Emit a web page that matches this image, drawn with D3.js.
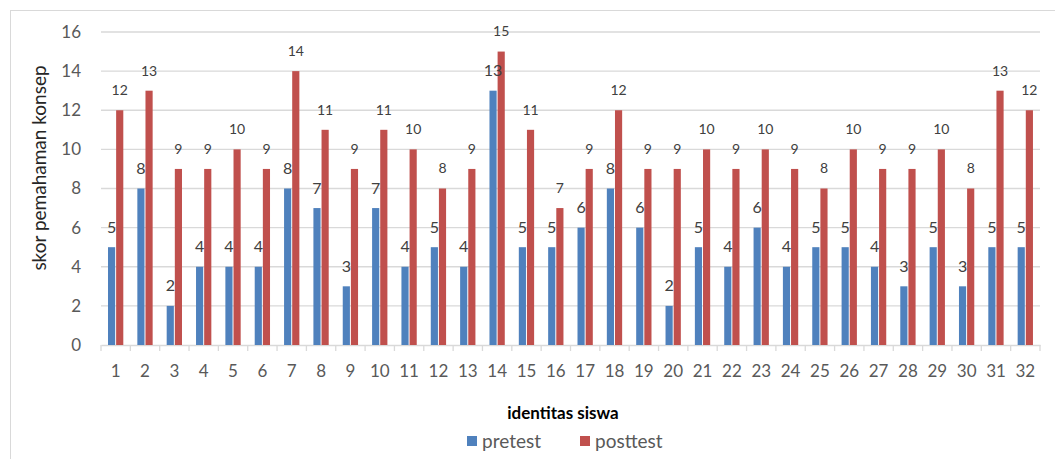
<!DOCTYPE html>
<html>
<head>
<meta charset="utf-8">
<script src="https://cdn.jsdelivr.net/npm/d3@7"></script>
<style>
  body { margin: 0; background: #fff; }
  text { font-family: Lato, "Open Sans", sans-serif; }
</style>
</head>
<body>
<div id="chart"></div>
<script>
// data
var ids = d3.range(1, 33).map(String);
var pretest  = [5, 8, 2, 4, 4, 4, 8, 7, 3, 7, 4, 5, 4, 13, 5, 5, 6, 8, 6, 2, 5, 4, 6, 4, 5, 5, 4, 3, 5, 3, 5, 5];
var posttest = [12, 13, 9, 9, 10, 9, 14, 11, 9, 11, 10, 8, 9, 15, 11, 7, 9, 12, 9, 9, 10, 9, 10, 9, 8, 10, 9, 9, 10, 8, 13, 12];
var yTicks = [0, 2, 4, 6, 8, 10, 12, 14, 16];
var seriesNames = ["pretest", "posttest"];
var seriesColors = ["#4f81bd", "#c0504d"];

var W = 1055, H = 459;
var svg = d3.select("#chart").append("svg")
    .attr("width", W)
    .attr("height", H);

// outer frame
svg.append("rect")
    .attr("x", 10.5).attr("y", 10.5)
    .attr("width", 1070).attr("height", 470)
    .attr("fill", "none")
    .attr("stroke", "#d9d9d9");

var x0 = d3.scaleBand().domain(ids).range([101, 1040]);
var x1 = d3.scaleBand().domain(seriesNames).range([7, 22.3]).paddingInner(0.12);
var y = d3.scaleLinear().domain([0, 16]).range([345, 32]);

// gridlines
svg.append("g")
  .selectAll("line")
  .data(yTicks.filter(function(d) { return d > 0; }))
  .enter()
  .append("line")
    .attr("x1", 101).attr("x2", 1040)
    .attr("y1", function(d) { return y(d); })
    .attr("y2", function(d) { return y(d); })
    .attr("stroke", "#d9d9d9")
    .attr("stroke-width", 1.3);

// y axis labels
var yAxis = svg.append("g")
    .attr("transform", "translate(101,0)")
    .call(d3.axisLeft(y).tickValues(yTicks).tickSize(0).tickPadding(20));
yAxis.select(".domain").remove();
yAxis.selectAll("text")
    .attr("font-family", "Lato, 'Open Sans', sans-serif")
    .attr("font-size", "17px")
    .attr("fill", "#595959");

// x axis
var xAxis = svg.append("g")
    .attr("transform", "translate(0,345)")
    .call(d3.axisBottom(x0).tickSize(0).tickPadding(20));
xAxis.select(".domain")
    .attr("stroke", "#d9d9d9")
    .attr("stroke-width", 1.3);
xAxis.selectAll("text")
    .attr("font-family", "Lato, 'Open Sans', sans-serif")
    .attr("font-size", "17px")
    .attr("fill", "#595959");
// category boundary ticks
svg.append("g")
  .selectAll("line")
  .data(ids.concat(["end"]))
  .enter()
  .append("line")
    .attr("x1", function(d) { return d === "end" ? 1040 : x0(d); })
    .attr("x2", function(d) { return d === "end" ? 1040 : x0(d); })
    .attr("y1", 345).attr("y2", 351)
    .attr("stroke", "#d9d9d9")
    .attr("stroke-width", 1.3);

// bars
var rows = ids.map(function(id, i) {
  return { id: id, values: [pretest[i], posttest[i]] };
});

var groups = svg.append("g")
  .selectAll("g")
  .data(rows)
  .enter()
  .append("g")
    .attr("transform", function(d) { return "translate(" + x0(d.id) + ",0)"; });

groups.selectAll("rect")
  .data(function(d) { return d.values.map(function(v, k) { return { k: k, v: v }; }); })
  .enter()
  .append("rect")
    .attr("x", function(d) { return x1(seriesNames[d.k]); })
    .attr("width", x1.bandwidth())
    .attr("y", function(d) { return y(d.v); })
    .attr("height", function(d) { return 345 - y(d.v); })
    .attr("fill", function(d) { return seriesColors[d.k]; });

groups.selectAll("text")
  .data(function(d) { return d.values.map(function(v, k) { return { k: k, v: v }; }); })
  .enter()
  .append("text")
    .attr("x", function(d) { return x1(seriesNames[d.k]) + x1.bandwidth() / 2; })
    .attr("y", function(d) { return y(d.v) - 20; })
    .attr("dy", "0.35em")
    .attr("text-anchor", "middle")
    .attr("font-size", function(d) { return d.k === 0 ? "16px" : "14px"; })
    .attr("fill", "#404040")
    .text(function(d) { return d.v; });

// axis titles
svg.append("text")
    .attr("transform", "translate(46,168) rotate(-90)")
    .attr("text-anchor", "middle")
    .attr("font-size", "19px")
    .attr("fill", "#262626")
    .text("skor pemahaman konsep");

svg.append("text")
    .attr("x", 563).attr("y", 419)
    .attr("text-anchor", "middle")
    .attr("font-size", "17px")
    .attr("font-weight", "bold")
    .attr("fill", "#000")
    .text("identitas siswa");

// legend
var legend = svg.append("g");
var legendX = [467, 580];
seriesNames.forEach(function(name, k) {
  legend.append("rect")
      .attr("x", legendX[k]).attr("y", 436)
      .attr("width", 10).attr("height", 10)
      .attr("fill", seriesColors[k]);
  legend.append("text")
      .attr("x", legendX[k] + 15).attr("y", 448)
      .attr("font-size", "19px")
      .attr("fill", "#595959")
      .text(name);
});
</script>
</body>
</html>
